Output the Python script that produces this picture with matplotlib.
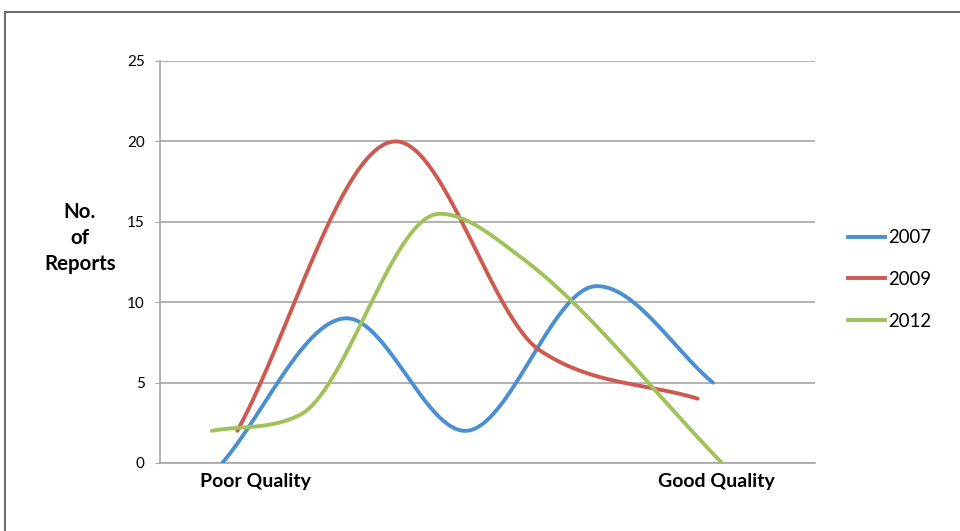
import numpy as np
import matplotlib
matplotlib.use("Agg")
import matplotlib.pyplot as plt
from matplotlib.lines import Line2D

# quality position (0 = left edge of plot, 100 = right edge) and report counts
years = ["2007", "2009", "2012"]
x_2007 = [9.5, 28.5, 46.6, 66.7, 84.4]
y_2007 = [0, 9, 2, 11, 5]
x_2009 = [11.8, 36.0, 58.0, 82.1]
y_2009 = [2, 20, 7, 4]
x_2012 = [7.9, 21.4, 42.7, 55.4, 85.8]
y_2012 = [2, 3, 15.5, 12.7, 0]

colors = ["#4A8FCF", "#CC5A50", "#A0C25A"]
yticks = [0, 5, 10, 15, 20, 25]

plt.rcParams['font.family'] = ['Lato', 'DejaVu Sans']


def smooth(xs, ys, n=60):
    # smoothed line: cubic hermite, flat at peaks/troughs, chord slope at the ends
    x = np.asarray(xs, float)
    y = np.asarray(ys, float)
    h = np.diff(x)
    m = np.diff(y) / h
    d = np.zeros_like(x)
    d[0], d[-1] = m[0], m[-1]
    for i in range(1, len(x) - 1):
        if m[i - 1] * m[i] > 0:
            d[i] = np.sign(m[i]) * np.sqrt(m[i - 1] * m[i])
    sx, sy = [], []
    for i in range(len(x) - 1):
        t = np.linspace(0, 1, n)
        h00 = 2 * t**3 - 3 * t**2 + 1
        h10 = t**3 - 2 * t**2 + t
        h01 = -2 * t**3 + 3 * t**2
        h11 = t**3 - t**2
        seg = h00 * y[i] + h10 * h[i] * d[i] + h01 * y[i + 1] + h11 * h[i] * d[i + 1]
        sx.append(x[i] + t * h[i])
        sy.append(seg)
    return np.concatenate(sx), np.concatenate(sy)


fig = plt.figure(figsize=(9.6, 5.31), dpi=100)
ax = fig.add_axes([160 / 960, 68 / 531, 655 / 960, 402 / 531])

for xs, ys, c in zip([x_2007, x_2009, x_2012], [y_2007, y_2009, y_2012], colors):
    sx, sy = smooth(xs, ys)
    ax.plot(sx, sy, color=c, lw=2.8, solid_capstyle='round', zorder=3)

ax.set_xlim(0, 100)
ax.set_ylim(0, 25)
ax.set_yticks(yticks)
ax.set_xticks([])
ax.grid(axis='y', color='#a6a6a6', lw=1.2)
for s in ['top', 'right']:
    ax.spines[s].set_visible(False)
ax.spines['left'].set_color('#a6a6a6')
ax.spines['bottom'].set_color('#a6a6a6')
ax.spines['left'].set_linewidth(1.2)
ax.spines['bottom'].set_linewidth(1.2)
ax.tick_params(axis='y', length=3.6, color='#a6a6a6', labelsize=11, pad=7.4)

fig.text(80 / 960, 1 - 238 / 531, "No.\nof\nReports", ha='center', va='center',
         fontsize=14.8, fontweight='bold', linespacing=1.4)
fig.text(255 / 960, 1 - 482 / 531, "Poor Quality", ha='center', va='center',
         fontsize=14, fontweight='bold')
fig.text(716 / 960, 1 - 482 / 531, "Good Quality", ha='center', va='center',
         fontsize=14, fontweight='bold')

handles = [Line2D([0], [0], color=c, lw=2.8) for c in colors]
fig.legend(handles, years, loc='center left', bbox_to_anchor=(848 / 960, 1 - 279.5 / 531),
           frameon=False, fontsize=13.4, handlelength=2.0, handletextpad=0.16,
           labelspacing=1.32, borderpad=0, borderaxespad=0)

# outer chart frame
fig.add_artist(Line2D([5 / 960, 1], [1 - 12 / 531] * 2, color='#6e6e6e', lw=1.5))
fig.add_artist(Line2D([5 / 960] * 2, [0, 1 - 12 / 531], color='#6e6e6e', lw=1.5))

fig.savefig("out.png", dpi=100)
